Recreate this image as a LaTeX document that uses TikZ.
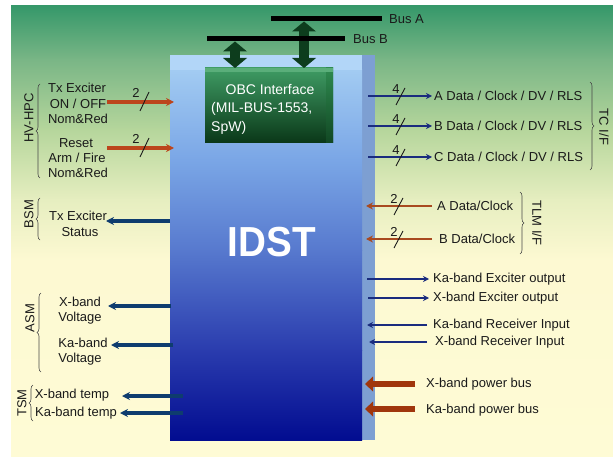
\documentclass[tikz,border=0pt]{standalone}
\usepackage{fontspec}
\setmainfont{Liberation Sans}
\usetikzlibrary{arrows.meta,decorations.pathreplacing,calc}
\definecolor{bgA}{HTML}{36986A}
\definecolor{bgB}{HTML}{7AB686}
\definecolor{bgC}{HTML}{B6D69C}
\definecolor{bgD}{HTML}{E6EEC0}
\definecolor{bgE}{HTML}{FDF9D2}
\definecolor{bgF}{HTML}{FEFBD5}
\definecolor{fA}{HTML}{A2CBF2}
\definecolor{fB}{HTML}{7AA6E6}
\definecolor{fC}{HTML}{5779CE}
\definecolor{fD}{HTML}{2A3CAE}
\definecolor{fE}{HTML}{020C90}
\definecolor{topface}{HTML}{B2D6F8}
\definecolor{sideface}{HTML}{7D9FD2}
\definecolor{obcA}{HTML}{3F9C64}
\definecolor{obcB}{HTML}{0A3718}
\definecolor{obcT}{HTML}{5AAE7A}
\definecolor{obcS}{HTML}{2F8A50}
\definecolor{dgreen}{HTML}{0D3D1D}
\definecolor{orng}{HTML}{BC451C}
\definecolor{tlmor}{HTML}{A84A20}
\definecolor{pwr}{HTML}{A0360C}
\definecolor{navyL}{HTML}{0E3C6E}
\definecolor{navyR}{HTML}{1A2C7E}
\definecolor{txt}{HTML}{1A1A1A}
\begin{document}
\begin{tikzpicture}[x=1pt,y=-1pt,
  lbl/.style={inner sep=0pt,text=txt,font=\fontsize{13}{15}\selectfont},
  rlbl/.style={lbl,anchor=west},
  grp/.style={lbl,rotate=90},
  grpr/.style={lbl,rotate=-90},
  brc/.style={draw=txt!80,line width=0.6pt,decorate,decoration={brace,amplitude=4pt}},
  navyRarr/.style={draw=navyR,line width=2pt,-{Stealth[length=6pt,width=6pt]}},
  navyLarr/.style={draw=navyL,line width=3.2pt,-{Stealth[length=8pt,width=8pt]}},
  orarr/.style={draw=orng,line width=3.6pt,-{Stealth[length=8pt,width=8pt]}},
  tlmarr/.style={draw=tlmor,line width=2.6pt,-{Stealth[length=7pt,width=7pt]}},
  pwrarr/.style={draw=pwr,line width=6.5pt,-{Triangle[length=8pt,width=15pt,line width=0pt]}},
  busline/.style={draw=black,line width=5pt},
  dblarr/.style={draw=dgreen,line width=10pt,{Triangle[length=10pt,width=24pt,line width=0pt]}-{Triangle[length=10pt,width=24pt,line width=0pt]}},
  slashm/.style={draw=txt,line width=0.9pt},
  num/.style={lbl,font=\fontsize{13}{15}\selectfont}
]
\useasboundingbox (0,0) rectangle (613,457);
\fill[white] (0,0) rectangle (613,457);
% background
\fill[top color=bgA,bottom color=bgB] (11,6) rectangle (613,60.5);
\fill[top color=bgB,bottom color=bgC] (11,60) rectangle (613,130.5);
\fill[top color=bgC,bottom color=bgD] (11,130) rectangle (613,200.5);
\fill[top color=bgD,bottom color=bgE] (11,200) rectangle (613,260.5);
\fill[top color=bgE,bottom color=bgF] (11,260) rectangle (613,457);
% main box
\fill[sideface] (362,55) rectangle (375,440);
\fill[top color=fA,bottom color=fB] (170,70) rectangle (362,160.5);
\fill[top color=fB,bottom color=fC] (170,160) rectangle (362,250.5);
\fill[top color=fC,bottom color=fD] (170,250) rectangle (362,350.5);
\fill[top color=fD,bottom color=fE] (170,350) rectangle (362,440);
\fill[topface] (170,55) rectangle (362,70);
\node[font=\bfseries\fontsize{42}{44}\selectfont,text=white,inner sep=0pt,xscale=0.92] (idst) at (272,242) {IDST};
% OBC box
\fill[top color=obcA,bottom color=obcB] (205,68) rectangle (333,143);
\fill[top color=obcS,bottom color=obcB!80!obcS] (326,68) rectangle (333,143);
\fill[obcT] (205,68) rectangle (333,72);
\node[lbl,text=white,font=\fontsize{14}{16}\selectfont] (obc1) at (270,90) {OBC Interface};
\node[lbl,text=white,font=\fontsize{14}{16}\selectfont,anchor=west] (obc2) at (211,109) {(MIL-BUS-1553,};
\node[lbl,text=white,font=\fontsize{14}{16}\selectfont,anchor=west] (obc3) at (211,128) {SpW)};
% buses
\coordinate (obcTopB) at (235,68);
\coordinate (obcTopA) at (304,68);
\coordinate (busBpt) at (235,41.5);
\coordinate (busApt) at (304,21.5);
\draw[dblarr] (busBpt) -- (obcTopB);
\draw[dblarr] (busApt) -- (obcTopA);
\coordinate (busAl) at (271,19);
\coordinate (busAr) at (382,19);
\coordinate (busBl) at (207,39);
\coordinate (busBr) at (345,39);
\draw[busline] (busAl) -- (busAr);
\draw[busline] (busBl) -- (busBr);
\node[rlbl] (busAlbl) at (389,19) {Bus A};
\node[rlbl] (busBlbl) at (353,39) {Bus B};
% left HV-HPC
\node[grp] (hvhpc) at (29,118) {HV-HPC};
\draw[brc] (40,178) -- (40,84);
\node[lbl] (t1) at (77,88) {Tx Exciter};
\node[lbl] (t2) at (78,104) {ON / OFF};
\node[lbl] (t3) at (78,119) {Nom\&Red};
\node[lbl] (t4) at (76,143) {Reset};
\node[lbl] (t5) at (77,158) {Arm / Fire};
\node[lbl] (t6) at (78,173) {Nom\&Red};
\coordinate (hv1s) at (107,102);
\coordinate (hv1e) at (174,102);
\coordinate (hv2s) at (107,148);
\coordinate (hv2e) at (174,148);
\draw[orarr] (hv1s) -- (hv1e);
\draw[orarr] (hv2s) -- (hv2e);
\draw[slashm] (140,111) -- (149,92);
\draw[slashm] (140,157) -- (149,138);
\node[num] (n2a) at (136,93) {2};
\node[num] (n2b) at (136,139) {2};
% BSM
\node[grp] (bsm) at (29,214) {BSM};
\draw[brc] (40,240) -- (40,198);
\node[lbl] (b1) at (78,216) {Tx Exciter};
\node[lbl] (b2) at (80,232) {Status};
\coordinate (bsms) at (170,221);
\coordinate (bsme) at (106,221);
\draw[navyLarr] (bsms) -- (bsme);
% ASM
\node[grp] (asm) at (30,318) {ASM};
\draw[brc] (41,372) -- (41,293);
\node[lbl] (a1) at (80,302) {X-band};
\node[lbl] (a2) at (80,318) {Voltage};
\node[lbl] (a3) at (83,343) {Ka-band};
\node[lbl] (a4) at (80,359) {Voltage};
\coordinate (as1s) at (171,306);
\coordinate (as1e) at (108,306);
\coordinate (as2s) at (173,345);
\coordinate (as2e) at (111,345);
\draw[navyLarr] (as1s) -- (as1e);
\draw[navyLarr] (as2s) -- (as2e);
% TSM
\node[grp] (tsm) at (22,403) {TSM};
\draw[brc] (33,421) -- (33,385);
\node[lbl] (s1) at (72,395) {X-band temp};
\node[lbl] (s2) at (76,413) {Ka-band temp};
\coordinate (ts1s) at (183,396);
\coordinate (ts1e) at (122,396);
\coordinate (ts2s) at (183,413);
\coordinate (ts2e) at (120,413);
\draw[navyLarr] (ts1s) -- (ts1e);
\draw[navyLarr] (ts2s) -- (ts2e);
% TC I/F
\foreach \yy/\nm/\tx in {96/tca/A,126/tcb/B,157/tcc/C}{
  \coordinate (\nm s) at (368,\yy);
  \coordinate (\nm e) at (432,\yy);
  \draw[navyRarr] (\nm s) -- (\nm e);
  \draw[slashm] (396,\yy+9) -- (405,\yy-8);
  \node[num] (\nm n) at (396,\yy-7) {4};
  \node[rlbl] (\nm l) at (434,\yy) {\tx\ Data / Clock / DV / RLS};
}
\draw[brc] (590,82) -- (590,170);
\node[grpr] (tcif) at (604,127) {TC I/F};
% TLM I/F
\foreach \yy/\nm/\tx/\xx in {206/tla/A/437,239/tlb/B/439}{
  \coordinate (\nm s) at (432,\yy);
  \coordinate (\nm e) at (366,\yy);
  \draw[tlmarr] (\nm s) -- (\nm e);
  \draw[slashm] (394,\yy+9) -- (403,\yy-8);
  \node[num] (\nm n) at (394,\yy-7) {2};
  \node[rlbl] (\nm l) at (\xx,\yy) {\tx\ Data/Clock};
}
\draw[brc] (520,192) -- (520,254);
\node[grpr] (tlmif) at (537,223) {TLM I/F};
% exciter outputs
\coordinate (kaes) at (367,279);
\coordinate (kaee) at (429,279);
\coordinate (xes) at (368,298);
\coordinate (xee) at (429,298);
\draw[navyRarr] (kaes) -- (kaee);
\draw[navyRarr] (xes) -- (xee);
\node[rlbl] (kael) at (433,279) {Ka-band Exciter output};
\node[rlbl] (xel) at (433,298) {X-band Exciter output};
% receiver inputs
\coordinate (kars) at (427,325);
\coordinate (kare) at (367,325);
\coordinate (xrs) at (427,342);
\coordinate (xre) at (369,342);
\draw[navyRarr] (kars) -- (kare);
\draw[navyRarr] (xrs) -- (xre);
\node[rlbl] (karl) at (433,325) {Ka-band Receiver Input};
\node[rlbl] (xrl) at (435,342) {X-band Receiver Input};
% power buses
\coordinate (xps) at (415,384);
\coordinate (xpe) at (365,384);
\coordinate (kps) at (415,409);
\coordinate (kpe) at (365,409);
\draw[pwrarr] (xps) -- (xpe);
\draw[pwrarr] (kps) -- (kpe);
\node[rlbl] (xpl) at (426,384) {X-band power bus};
\node[rlbl] (kpl) at (426,410) {Ka-band power bus};
\end{tikzpicture}
\end{document}
